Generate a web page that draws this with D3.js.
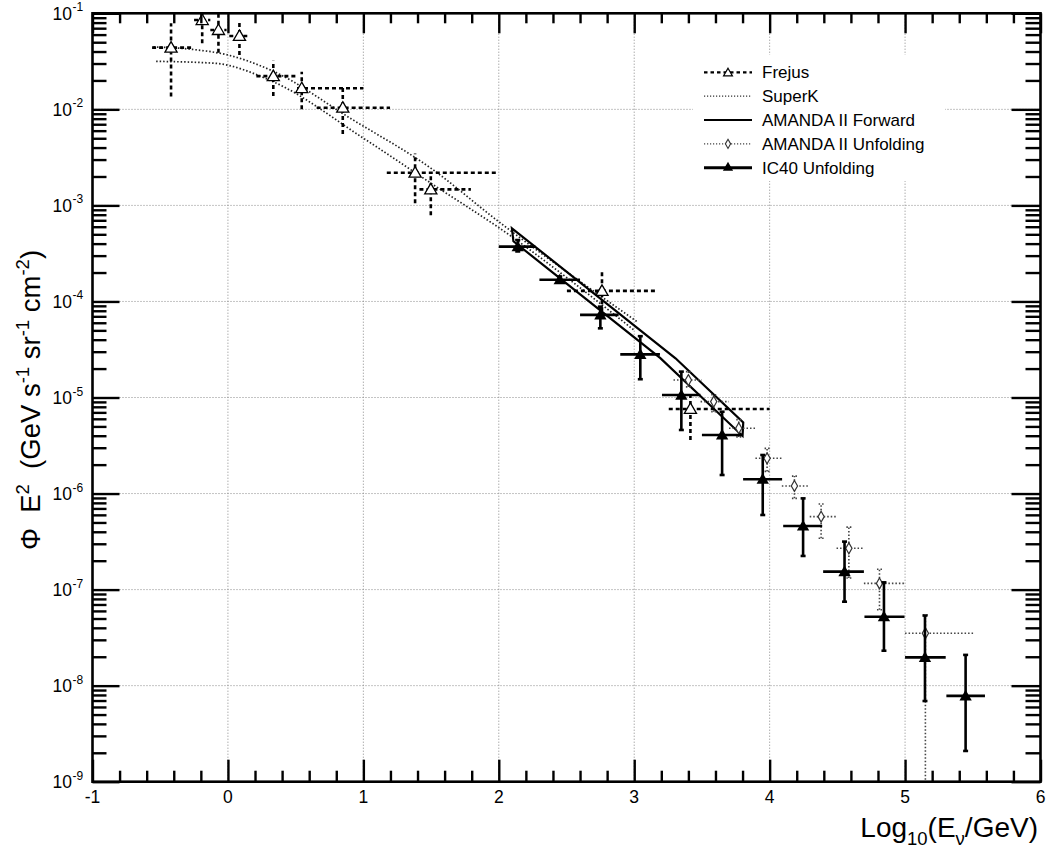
<!DOCTYPE html>
<html><head><meta charset="utf-8">
<script src="https://cdn.jsdelivr.net/npm/d3@7"></script>
<style>
body{margin:0;background:#fff}
svg{display:block}
text{font-family:"Liberation Sans",Arial,Helvetica,sans-serif;fill:#000}
</style>
</head><body>
<svg id="c" width="1047" height="853"></svg>
<script>
// ---------- data ----------
const xTickValues = [-1,0,1,2,3,4,5,6];
const yDecadeExponents = [-9,-8,-7,-6,-5,-4,-3,-2,-1];

// Frejus (open triangles, dashed error bars)
const frejusX   = [-0.42,-0.19,-0.07,0.085,0.335,0.545,0.848,1.382,1.498,2.762,3.415];
const frejusXLo = [-0.56,-0.25,-0.13,0.01,0.21,0.51,0.655,1.173,1.414,2.503,3.255];
const frejusXHi = [-0.25,-0.13,-0.01,0.16,0.51,1.0,1.197,1.998,1.794,3.168,4.0];
const frejusY   = [0.0439,0.0851,0.067,0.0581,0.0222,0.0166,0.0104,0.00219,0.00147,1.29e-4,7.6e-6];
const frejusYLo = [0.0136,0.0488,0.0389,0.0368,0.0138,0.0100,0.00553,0.00105,7.9e-4,7.9e-5,3.6e-6];
const frejusYHi = [0.0787,0.12,0.11,0.0818,0.0321,0.0247,0.0170,0.00348,0.00221,2.12e-4,1.1e-5];

// SuperK band (two dotted curves)
const superKUpperX = [-0.55,-0.27,0,0.33,0.9,1.5,2.0,2.5,3.02];
const superKUpperY = [0.0447,0.0422,0.0368,0.0251,0.00813,0.00243,6.76e-4,2.04e-4,6.17e-5];
const superKLowerX = [-0.53,-0.1,0.33,1.0,1.5,2.09,2.5,3.0];
const superKLowerY = [0.0316,0.0302,0.0195,0.00501,0.00170,4.79e-4,1.78e-4,5.01e-5];

// AMANDA II Forward band (solid outline)
const fwdUpperX = [2.097,3.305,3.805];
const fwdUpperY = [5.78e-4,2.56e-5,5.50e-6];
const fwdLowerX = [2.108,3.193,3.80];
const fwdLowerY = [4.23e-4,2.57e-5,3.98e-6];

// AMANDA II Unfolding (open diamonds, dotted error bars)
const amuX   = [3.40,3.587,3.772,3.981,4.183,4.38,4.585,4.811,5.15];
const amuXLo = [3.29,3.49,3.70,3.895,4.09,4.296,4.494,4.696,5.0];
const amuXHi = [3.50,3.70,3.895,4.10,4.296,4.50,4.70,4.996,5.51];
const amuY   = [1.52e-5,9.06e-6,4.79e-6,2.33e-6,1.20e-6,5.75e-7,2.69e-7,1.16e-7,3.51e-8];
const amuYLo = [1.29e-5,7.11e-6,3.89e-6,1.70e-6,8.91e-7,3.42e-7,1.32e-7,6.17e-8,1e-10];
const amuYHi = [1.86e-5,1.07e-5,5.89e-6,2.95e-6,1.52e-6,7.78e-7,4.47e-7,1.63e-7,5.43e-8];

// IC40 Unfolding (filled triangles, solid error bars)
const icX   = [2.14,2.45,2.75,3.045,3.348,3.649,3.949,4.247,4.553,4.844,5.147,5.447];
const icXLo = [2.0,2.30,2.60,2.897,3.205,3.50,3.804,4.10,4.395,4.70,5.0,5.305];
const icXHi = [2.27,2.60,2.885,3.19,3.489,3.796,4.092,4.388,4.696,4.996,5.30,5.59];
const icY   = [3.72e-4,1.68e-4,7.24e-5,2.81e-5,1.06e-5,4.07e-6,1.41e-6,4.59e-7,1.54e-7,5.22e-8,1.97e-8,7.83e-9];
const icYLo = [3.31e-4,1.58e-4,5.25e-5,1.55e-5,4.59e-6,1.56e-6,5.98e-7,2.24e-7,7.48e-8,2.31e-8,6.92e-9,2.09e-9];
const icYHi = [4.37e-4,1.82e-4,8.83e-5,4.35e-5,1.86e-5,7.11e-6,2.52e-6,8.91e-7,3.16e-7,1.19e-7,5.37e-8,2.09e-8];

const legendLabels = ["Frejus","SuperK","AMANDA II Forward","AMANDA II Unfolding","IC40 Unfolding"];

// ---------- layout ----------
const L = 92.5, R = 1040.5, T = 13.3, B = 781.7;
const svg = d3.select("#c");
const x = d3.scaleLinear().domain([-1,6]).range([L,R]);
const y = d3.scaleLog().domain([1e-9,1e-1]).range([B,T]);

const yMajor = yDecadeExponents.map(e => Math.pow(10,e));
const yMinor = [];
yDecadeExponents.slice(0,-1).forEach(e => { for (let k=2;k<=9;k++) yMinor.push(k*Math.pow(10,e)); });
const xMinor = d3.range(-1,6.0001,0.2).map(v=>+v.toFixed(1)).filter(v=>Math.abs(v-Math.round(v))>1e-6);

svg.append("rect").attr("width",1047).attr("height",853).attr("fill","#fff");

// grid
const grid = svg.append("g").attr("stroke","#888").attr("stroke-width",1).attr("stroke-dasharray","1,2");
grid.selectAll("line.gx").data(xTickValues.filter(v=>v>-1&&v<6)).join("line")
  .attr("x1",d=>x(d)).attr("x2",d=>x(d)).attr("y1",B).attr("y2",T);
grid.selectAll("line.gy").data(yMajor.filter(v=>v>1e-9&&v<1e-1)).join("line")
  .attr("y1",d=>y(d)).attr("y2",d=>y(d)).attr("x1",L).attr("x2",R);

// clip
svg.append("clipPath").attr("id","clip").append("rect").attr("x",L).attr("y",T).attr("width",R-L).attr("height",B-T);
const plot = svg.append("g").attr("clip-path","url(#clip)");

// SuperK
const lineGen = d3.line().x(d=>x(d[0])).y(d=>y(d[1])).curve(d3.curveMonotoneX);
[[superKUpperX,superKUpperY],[superKLowerX,superKLowerY]].forEach(([xs,ys])=>{
  plot.append("path").datum(xs.map((v,i)=>[v,ys[i]])).attr("d",lineGen)
    .attr("fill","none").attr("stroke","#222").attr("stroke-width",1.7).attr("stroke-dasharray","1.5,2");
});

// AMANDA II Forward band
const fwdPts = fwdUpperX.map((v,i)=>[v,fwdUpperY[i]]).concat(fwdLowerX.map((v,i)=>[v,fwdLowerY[i]]).reverse());
plot.append("path").attr("d",d3.line().x(d=>x(d[0])).y(d=>y(d[1]))(fwdPts)+"Z")
  .attr("fill","none").attr("stroke","#000").attr("stroke-width",2.2).attr("stroke-linejoin","miter");

// generic error bar drawer
function errBars(g, xs, xlo, xhi, ys, ylo, yhi, style, cap){
  const gg = g.append("g").attr("stroke",style.color).attr("stroke-width",style.w)
    .attr("stroke-dasharray",style.dash||null).attr("fill","none");
  xs.forEach((xv,i)=>{
    gg.append("line").attr("x1",x(xlo[i])).attr("x2",x(xhi[i])).attr("y1",y(ys[i])).attr("y2",y(ys[i]));
    gg.append("line").attr("x1",x(xv)).attr("x2",x(xv)).attr("y1",y(Math.max(ylo[i],1e-12))).attr("y2",y(yhi[i]));
    if (cap){
      [ylo[i],yhi[i]].forEach(v=>{ if (v>1e-9) gg.append("line").attr("stroke-dasharray",null)
        .attr("x1",x(xv)-cap).attr("x2",x(xv)+cap).attr("y1",y(v)).attr("y2",y(v)); });
    }
  });
}

// AMANDA II Unfolding
errBars(plot, amuX, amuXLo, amuXHi, amuY, amuYLo, amuYHi, {color:"#444",w:1.6,dash:"1.5,2"}, 2.5);
plot.append("g").selectAll("path").data(amuX).join("path")
  .attr("transform",(d,i)=>`translate(${x(d)},${y(amuY[i])})`)
  .attr("d",d3.symbol(d3.symbolDiamond,34)).attr("fill","#fff").attr("stroke","#333").attr("stroke-width",1.2);

// Frejus
errBars(plot, frejusX, frejusXLo, frejusXHi, frejusY, frejusYLo, frejusYHi, {color:"#000",w:2.6,dash:"4,3"}, 0);
plot.append("g").selectAll("path").data(frejusX).join("path")
  .attr("transform",(d,i)=>`translate(${x(d)},${y(frejusY[i])+1})`)
  .attr("d",d3.symbol(d3.symbolTriangle,64)).attr("fill","#fff").attr("stroke","#000").attr("stroke-width",1.3);

// IC40
errBars(plot, icX, icXLo, icXHi, icY, icYLo, icYHi, {color:"#000",w:2.6}, 2.5);
plot.append("g").selectAll("path").data(icX).join("path")
  .attr("transform",(d,i)=>`translate(${x(d)},${y(icY[i])+1})`)
  .attr("d",d3.symbol(d3.symbolTriangle,66)).attr("fill","#000");

// ---------- axes (ROOT style, ticks inward, all four sides) ----------
function styleAxis(g){ g.select(".domain").remove(); g.selectAll("line").attr("stroke","#000").attr("stroke-width",2.4); g.selectAll("text").remove(); }
svg.append("g").attr("transform",`translate(0,${B})`).call(d3.axisBottom(x).tickValues(xTickValues).tickSize(-22)).call(styleAxis);
svg.append("g").attr("transform",`translate(0,${B})`).call(d3.axisBottom(x).tickValues(xMinor).tickSize(-11)).call(styleAxis);
svg.append("g").attr("transform",`translate(0,${T})`).call(d3.axisTop(x).tickValues(xTickValues).tickSize(-20)).call(styleAxis);
svg.append("g").attr("transform",`translate(0,${T})`).call(d3.axisTop(x).tickValues(xMinor).tickSize(-10)).call(styleAxis);
svg.append("g").attr("transform",`translate(${L},0)`).call(d3.axisLeft(y).tickValues(yMajor).tickSize(-27)).call(styleAxis);
svg.append("g").attr("transform",`translate(${L},0)`).call(d3.axisLeft(y).tickValues(yMinor).tickSize(-14)).call(styleAxis);
svg.append("g").attr("transform",`translate(${R},0)`).call(d3.axisRight(y).tickValues(yMajor).tickSize(-29)).call(styleAxis);
svg.append("g").attr("transform",`translate(${R},0)`).call(d3.axisRight(y).tickValues(yMinor).tickSize(-15)).call(styleAxis);

// frame
svg.append("rect").attr("x",L).attr("y",T).attr("width",R-L).attr("height",B-T)
  .attr("fill","none").attr("stroke","#000").attr("stroke-width",2.6);

// tick labels
svg.append("g").selectAll("text").data(xTickValues).join("text")
  .attr("x",d=>x(d)).attr("y",B+21.5).attr("text-anchor","middle").attr("font-size",17.5)
  .text(d=>d);
svg.append("g").selectAll("text").data(yDecadeExponents).join("text")
  .attr("x",72).attr("y",d=>y(Math.pow(10,d))+6.5).attr("text-anchor","end").attr("font-size",17.5).text("10");
svg.append("g").selectAll("text").data(yDecadeExponents).join("text")
  .attr("x",72.5).attr("y",d=>y(Math.pow(10,d))-2).attr("font-size",12).text(d=>d);

// axis titles
const xt = svg.append("text").attr("x",1038).attr("y",837).attr("text-anchor","end").attr("font-size",28);
xt.append("tspan").text("Log");
xt.append("tspan").attr("font-size",18.5).attr("dy",8).text("10");
xt.append("tspan").attr("dy",-8).text("(E");
xt.append("tspan").attr("font-size",18.5).attr("dy",8).text("ν");
xt.append("tspan").attr("dy",-8).text("/GeV)");

const yt = svg.append("text").attr("transform","translate(40,400) rotate(-90)").attr("text-anchor","middle").attr("font-size",27.5);
yt.append("tspan").text("Φ\u00a0\u00a0E");
yt.append("tspan").attr("font-size",18.5).attr("dy",-11).text("2");
yt.append("tspan").attr("dy",11).text("\u00a0\u00a0(GeV s");
yt.append("tspan").attr("font-size",18.5).attr("dy",-11).text("-1");
yt.append("tspan").attr("dy",11).text(" sr");
yt.append("tspan").attr("font-size",18.5).attr("dy",-11).text("-1");
yt.append("tspan").attr("dy",11).text(" cm");
yt.append("tspan").attr("font-size",18.5).attr("dy",-11).text("-2");
yt.append("tspan").attr("dy",11).text(")");

// ---------- legend ----------
const lg = svg.append("g");
lg.append("rect").attr("x",693).attr("y",55).attr("width",252).attr("height",126).attr("fill","#fff");
const rowY = d3.scaleLinear().domain([0,4]).range([72.3,167.7]);
const lx1 = 704, lx2 = 752, lxm = 728;
const legendStyles = [
  {w:2.2,dash:"3.5,3",color:"#000"},
  {w:1.4,dash:"1.2,1.8",color:"#333"},
  {w:2.2,dash:null,color:"#000"},
  {w:1.4,dash:"1.2,1.8",color:"#444"},
  {w:3,dash:null,color:"#000"}
];
legendLabels.forEach((lab,i)=>{
  const cy = rowY(i), s = legendStyles[i];
  lg.append("line").attr("x1",lx1).attr("x2",lx2).attr("y1",cy).attr("y2",cy)
    .attr("stroke",s.color).attr("stroke-width",s.w).attr("stroke-dasharray",s.dash);
  lg.append("text").attr("x",762).attr("y",cy+6).attr("font-size",17).text(lab);
});
lg.append("path").attr("transform",`translate(${lxm},${rowY(0)+1})`).attr("d",d3.symbol(d3.symbolTriangle,34))
  .attr("fill","#fff").attr("stroke","#000").attr("stroke-width",1.2);
lg.append("path").attr("transform",`translate(${lxm},${rowY(3)})`).attr("d",d3.symbol(d3.symbolDiamond,24))
  .attr("fill","#fff").attr("stroke","#333").attr("stroke-width",1.1);
lg.append("path").attr("transform",`translate(${lxm},${rowY(4)})`).attr("d",d3.symbol(d3.symbolTriangle,45))
  .attr("fill","#000");
</script>
</body></html>
